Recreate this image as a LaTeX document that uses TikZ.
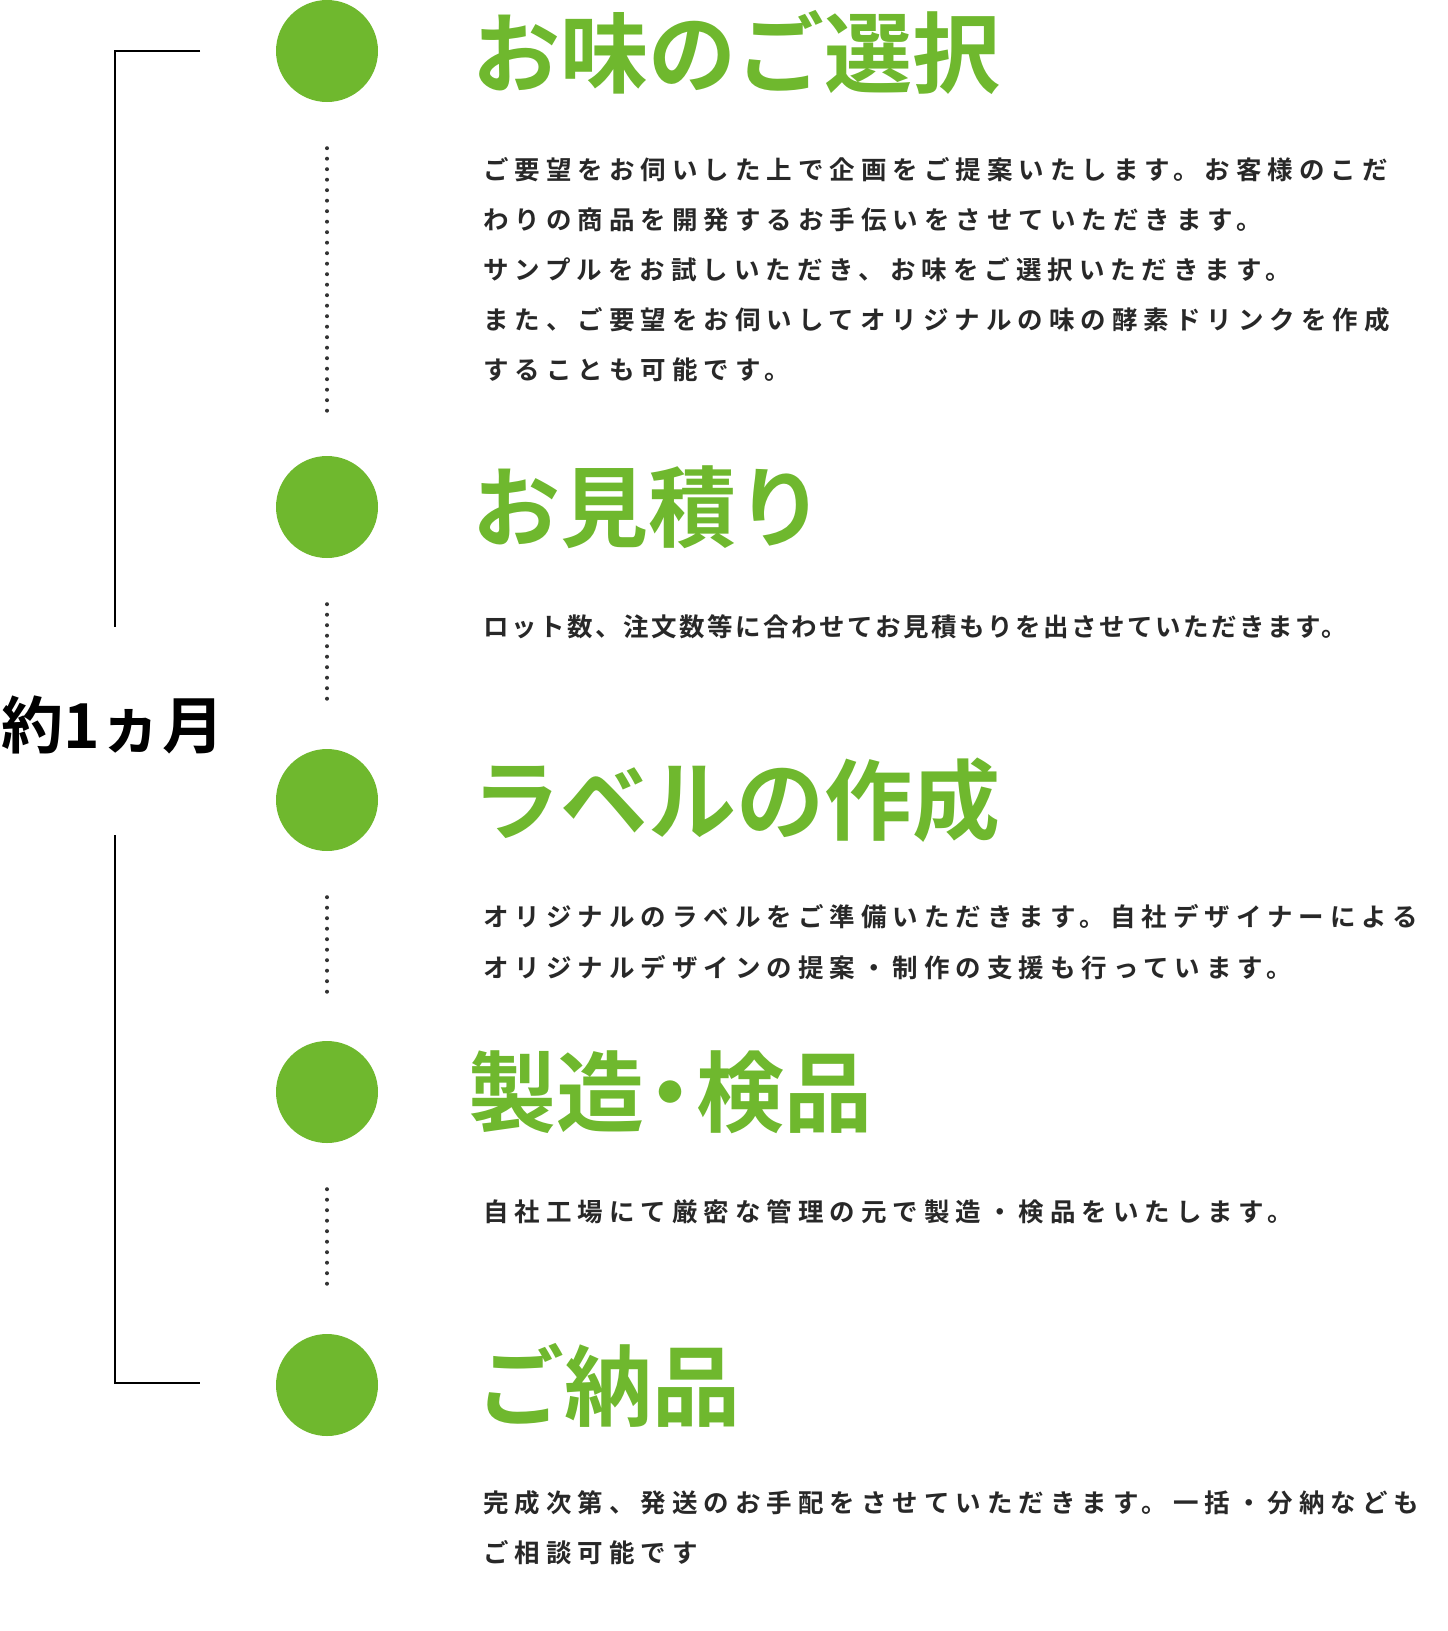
\documentclass[tikz,border=0pt]{standalone}
\usepackage{fontspec}
\newfontfamily\jp{Noto Sans CJK JP Bold}
\newfontfamily\jpb[LetterSpace=23.5]{Noto Sans CJK JP Bold}
\newfontfamily\jpc[LetterSpace=10]{Noto Sans CJK JP Bold}
\definecolor{grn}{RGB}{111,184,46}
\definecolor{txt}{RGB}{40,40,40}
\begin{document}
\begin{tikzpicture}[x=1pt,y=-1pt,
  dot/.style={circle,fill=grn,minimum size=102pt,inner sep=0pt},
  ttl/.style={anchor=west,inner sep=0pt,text=grn,font=\jp\fontsize{88}{88}\selectfont},
  body/.style={anchor=west,inner sep=0pt,text=txt,font=\jpb\fontsize{25.5}{25.5}\selectfont},
  dl/.style={line width=4pt,dash pattern=on 0pt off 10.5pt,line cap=round,black!80},
  br/.style={line width=1.2pt,black}]
\useasboundingbox (0,0) rectangle (1448,1631);
\foreach \n/\y in {1/51,2/507,3/800,4/1092,5/1385}{\node[dot] (c\n) at (327,\y) {};}
\foreach \a/\b in {1/2,2/3,3/4,4/5}{\draw[dl] ([yshift=-46pt]c\a.south) -- ([yshift=43pt]c\b.north);}
\coordinate (t1) at (200,51); \coordinate (t2) at (115,51); \coordinate (t3) at (115,627);
\coordinate (b1) at (115,835); \coordinate (b2) at (115,1383); \coordinate (b3) at (200,1383);
\draw[br] (t1) -- (t2) -- (t3);
\draw[br] (b1) -- (b2) -- (b3);
\node[inner sep=0pt,font=\jp\fontsize{62}{62}\selectfont] (lab) at (113,725) {約1ヵ月};
\node[ttl] (h1) at (472,52) {お味のご選択};
\node[ttl] (h2) at (472,507) {お見積り};
\node[ttl] (h3) at (472,800) {ラベルの作成};
\node[ttl] (h4) at (468,1092) {製造\hspace{-18pt}・\hspace{-18pt}検品};
\node[ttl] (h5) at (476,1385) {ご納品};
\node[body] (p11) at (483,170) {ご要望をお伺いした上で企画をご提案いたします。お客様のこだ};
\node[body] (p12) at (483,220) {わりの商品を開発するお手伝いをさせていただきます。};
\node[body] (p13) at (483,270) {サンプルをお試しいただき、お味をご選択いただきます。};
\node[body] (p14) at (483,320) {また、ご要望をお伺いしてオリジナルの味の酵素ドリンクを作成};
\node[body] (p15) at (483,370) {することも可能です。};
\node[body,font=\jpc\fontsize{25.5}{25.5}\selectfont] (p21) at (483,627) {ロット数、注文数等に合わせてお見積もりを出させていただきます。};
\node[body] (p31) at (483,917) {オリジナルのラベルをご準備いただきます。自社デザイナーによる};
\node[body] (p32) at (483,968) {オリジナルデザインの提案・制作の支援も行っています。};
\node[body] (p41) at (483,1212) {自社工場にて厳密な管理の元で製造・検品をいたします。};
\node[body] (p51) at (483,1503) {完成次第、発送のお手配をさせていただきます。一括・分納なども};
\node[body] (p52) at (483,1553) {ご相談可能です};
\end{tikzpicture}
\end{document}
